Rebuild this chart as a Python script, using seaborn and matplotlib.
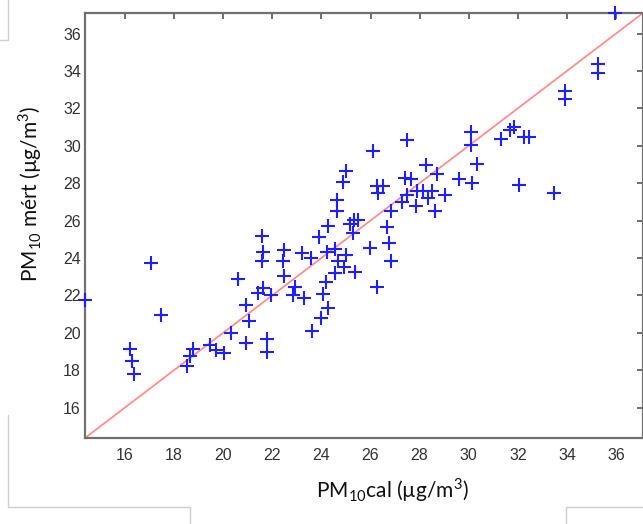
import numpy as np
import pandas as pd
import matplotlib
matplotlib.use('Agg')
import matplotlib.pyplot as plt
import seaborn as sns
from matplotlib.lines import Line2D

pm10_cal = [35.97, 35.28, 35.28, 33.92, 33.92, 31.85, 31.68, 31.32, 32.25, 32.47,
            30.08, 30.08, 30.33, 27.50, 26.11, 25.02, 24.87, 28.26, 28.70, 27.41,
            27.64, 29.59, 30.13, 32.06, 33.47, 26.25, 26.50, 26.32, 27.91, 28.13,
            28.49, 28.35, 27.47, 27.27, 29.02, 27.84, 28.63, 26.82, 25.33, 24.64,
            24.64, 25.50, 25.16, 25.30, 24.28, 23.91, 21.57, 21.63, 21.59, 22.48,
            22.45, 23.20, 23.56, 24.22, 24.55, 25.00, 24.69, 24.94, 25.37, 24.55,
            24.19, 22.48, 20.62, 17.05, 21.43, 21.63, 21.93, 22.92, 22.86, 23.29,
            24.08, 14.37, 20.92, 21.06, 24.28, 17.45, 23.97, 23.60, 20.31, 21.77,
            21.77, 20.92, 19.46, 19.71, 20.03, 18.78, 18.65, 18.54, 16.20, 16.30,
            16.37, 26.66, 25.98, 26.75, 26.82, 26.25]
pm10_mert = [37.10, 34.35, 33.90, 32.93, 32.49, 31.02, 30.84, 30.38, 30.48, 30.48,
             30.75, 30.06, 29.03, 30.31, 29.70, 28.64, 28.05, 28.98, 28.50, 28.27,
             28.20, 28.20, 28.00, 27.91, 27.49, 27.84, 27.84, 27.47, 27.56, 27.56,
             27.56, 27.22, 27.35, 26.99, 27.35, 26.78, 26.51, 26.49, 26.05, 27.08,
             26.51, 26.02, 25.84, 25.31, 25.71, 25.10, 25.18, 24.33, 23.84, 24.42,
             23.84, 24.24, 23.98, 24.33, 24.47, 24.15, 23.84, 23.54, 23.27, 23.18,
             22.73, 23.04, 22.88, 23.74, 22.15, 22.38, 22.03, 22.47, 22.03, 21.85,
             22.06, 21.76, 21.49, 20.61, 21.32, 20.96, 20.79, 20.07, 19.99, 19.69,
             18.96, 19.46, 19.33, 19.05, 18.93, 19.15, 18.74, 18.21, 19.14, 18.48,
             17.77, 25.63, 24.54, 24.78, 23.85, 22.44]
x_ticks = [16, 18, 20, 22, 24, 26, 28, 30, 32, 34, 36]
y_ticks = [16, 18, 20, 22, 24, 26, 28, 30, 32, 34, 36]
x_label = 'PM$_\\mathregular{10}$cal (µg/m$^\\mathregular{3}$)'
y_label = 'PM$_\\mathregular{10}$ mért (µg/m$^\\mathregular{3}$)'

sns.set_style('white')
plt.rcParams['font.family'] = ['Liberation Sans', 'DejaVu Sans']

W, H = 643, 524
fig = plt.figure(figsize=(W / 100, H / 100), dpi=100)
ax = fig.add_axes([85 / W, 86 / H, 558 / W, 425 / H])

df = pd.DataFrame({'cal': pm10_cal, 'mert': pm10_mert})
lo = float(min(df['cal'].min(), df['mert'].min()))
hi = float(max(df['cal'].max(), df['mert'].max()))

ax.plot([lo, hi], [lo, hi], color='#ff8f8f', lw=1.3, zorder=1)
sns.scatterplot(data=df, x='cal', y='mert', marker='+', color='#2020ff',
                s=95, linewidth=1.5, ax=ax, zorder=3, clip_on=False)

ax.set_xlim(lo, hi)
ax.set_ylim(lo, hi)
ax.set_xticks(x_ticks)
ax.set_yticks(y_ticks)
ax.tick_params(direction='in', length=4, width=1.2, top=True, right=True,
               color='#555555', labelcolor='#333333', labelsize=11.5)
ax.tick_params(axis='x', pad=7)
ax.tick_params(axis='y', pad=3)
for sp in ax.spines.values():
    sp.set_color('#707070')
    sp.set_linewidth(1.6)

ax.set_xlabel(x_label, fontsize=15, family=['Lato', 'DejaVu Sans'], color='#111111')
ax.set_ylabel(y_label, fontsize=15, family=['Lato', 'DejaVu Sans'], color='#111111')
ax.xaxis.set_label_coords(0.55, -0.09)
ax.yaxis.set_label_coords(-0.073, 0.575)

# light frame lines of the page around the figure
def fl(xs, ys):
    fig.add_artist(Line2D([x / W for x in xs], [1 - y / H for y in ys],
                          color='#cfcfcf', lw=1, transform=fig.transFigure))
fl([0, 8, 8], [40, 40, 0])
fl([8, 8, 190, 190], [415, 507, 507, 524])
fl([566, 566, 643], [524, 507, 507])

fig.savefig('out.png', dpi=100)
